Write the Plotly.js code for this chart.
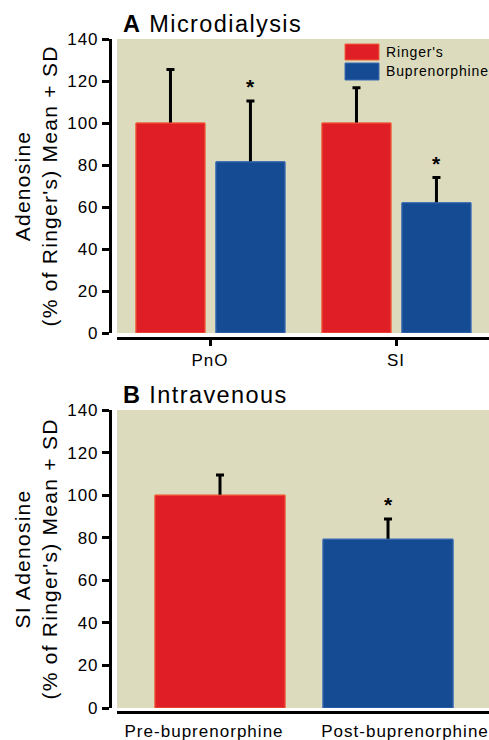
<!DOCTYPE html>
<html>
<head>
<meta charset="utf-8">
<script src="https://cdn.plot.ly/plotly-3.0.1.min.js"></script>
<style>
  html, body { margin: 0; padding: 0; background: #fff; }
  #chart { width: 489px; height: 740px; }
  svg text { letter-spacing: 0.06em; }
</style>
</head>
<body>
<div id="chart"></div>
<script>
// ---- Data ----
const categoriesA = ['PnO', 'SI'];
const seriesNames = ["Ringer's", 'Buprenorphine'];
const ringerMean = [100, 100];
const ringerSD = [25.5, 16.8];
const bupMean = [81.5, 62];
const bupSD = [29, 12];
const bupSig = ['*', '*'];

const categoriesB = ['Pre-buprenorphine', 'Post-buprenorphine'];
const ivMean = [100, 79.3];
const ivSD = [9.5, 9.5];
const ivSig = ['', '*'];

const yTicks = [0, 20, 40, 60, 80, 100, 120, 140];

// ---- Styles ----
const RED = '#e01e26', RED_EDGE = '#f0603c';
const BLUE = '#144b93', BLUE_EDGE = '#3f6fb4';
const BEIGE = '#dcdbbd';
const FONT = 'Liberation Sans, Arial, sans-serif';
const W = 489, H = 740;
const px = v => v / W;
const py = v => (H - v) / H;

const barW_A = 0.371, offR = -0.398, offB = 0.032;
const barW_B = 0.774;
const labelPosB = [-0.095, 1.101];

const errStyle = { color: '#000', thickness: 3, width: 4 };

function errBars(sd) {
  // symmetric bars; the lower half is hidden under a second copy of the bar
  return Object.assign({ type: 'data', symmetric: true, array: sd }, errStyle);
}

function barPair(base, sd) {
  const withErr = Object.assign({}, base, { error_y: errBars(sd) });
  const cover = Object.assign({}, base);
  return [withErr, cover];
}

const traces = [].concat(
  barPair({
    type: 'bar', name: seriesNames[0], x: categoriesA, y: ringerMean,
    xaxis: 'x', yaxis: 'y', width: barW_A, offset: offR,
    marker: { color: RED, line: { color: RED_EDGE, width: 1 } },
    showlegend: false, hoverinfo: 'skip'
  }, ringerSD),
  barPair({
    type: 'bar', name: seriesNames[1], x: categoriesA, y: bupMean,
    xaxis: 'x', yaxis: 'y', width: barW_A, offset: offB,
    marker: { color: BLUE, line: { color: BLUE_EDGE, width: 1 } },
    showlegend: false, hoverinfo: 'skip'
  }, bupSD),
  barPair({
    type: 'bar', name: 'Intravenous', x: categoriesB, y: ivMean,
    xaxis: 'x2', yaxis: 'y2', width: barW_B,
    marker: { color: [RED, BLUE], line: { color: [RED_EDGE, BLUE_EDGE], width: 1 } },
    showlegend: false, hoverinfo: 'skip'
  }, ivSD)
);

const annotations = [];
const starFont = { family: FONT, size: 21, color: '#000', weight: 'bold' };
bupSig.forEach((s, i) => {
  if (!s) return;
  annotations.push({
    xref: 'x', yref: 'y', x: i + offB + barW_A / 2, y: bupMean[i] + bupSD[i],
    text: s, showarrow: false, yanchor: 'bottom', xanchor: 'center', yshift: 1,
    font: starFont
  });
});
ivSig.forEach((s, i) => {
  if (!s) return;
  annotations.push({
    xref: 'x2', yref: 'y2', x: i, y: ivMean[i] + ivSD[i],
    text: s, showarrow: false, yanchor: 'bottom', xanchor: 'center', yshift: 1,
    font: starFont
  });
});
// panel titles
annotations.push({
  xref: 'paper', yref: 'paper', x: px(121), y: py(24), xanchor: 'left', yanchor: 'middle',
  text: '<b>A</b> Microdialysis', showarrow: false, font: { family: FONT, size: 23.5, color: '#000' }
});
annotations.push({
  xref: 'paper', yref: 'paper', x: px(121), y: py(395), xanchor: 'left', yanchor: 'middle',
  text: '<b>B</b> Intravenous', showarrow: false, font: { family: FONT, size: 23.5, color: '#000' }
});
// legend labels
annotations.push({
  xref: 'paper', yref: 'paper', x: px(384), y: py(52), xanchor: 'left', yanchor: 'middle',
  text: seriesNames[0], showarrow: false, font: { family: FONT, size: 14, color: '#000' }
});
annotations.push({
  xref: 'paper', yref: 'paper', x: px(384), y: py(71.5), xanchor: 'left', yanchor: 'middle',
  text: seriesNames[1], showarrow: false, font: { family: FONT, size: 14, color: '#000' }
});

const shapes = [
  { type: 'rect', xref: 'paper', yref: 'paper', x0: px(345), x1: px(379), y0: py(60), y1: py(44),
    fillcolor: RED, line: { color: RED_EDGE, width: 1 } },
  { type: 'rect', xref: 'paper', yref: 'paper', x0: px(345), x1: px(379), y0: py(80), y1: py(63),
    fillcolor: BLUE, line: { color: BLUE_EDGE, width: 1 } }
];

const yAxisBase = {
  range: [0, 140], tickvals: yTicks, showgrid: false, zeroline: false,
  showline: true, linecolor: '#000', linewidth: 3,
  ticks: 'outside', ticklen: 7, tickwidth: 3, tickcolor: '#000',
  tickfont: { family: FONT, size: 17, color: '#000' },
  anchor: 'free', position: px(110), fixedrange: true
};

const layout = {
  width: W, height: H,
  margin: { l: 0, r: 0, t: 0, b: 0, pad: 0 },
  paper_bgcolor: '#ffffff', plot_bgcolor: BEIGE,
  barmode: 'overlay',
  showlegend: false,
  xaxis: {
    domain: [px(117), 1], type: 'category', range: [-0.5, 1.5],
    anchor: 'free', position: (H - 338) / H,
    showline: true, linecolor: '#000', linewidth: 3,
    ticks: 'outside', ticklen: 6, tickwidth: 3, tickcolor: '#000',
    tickfont: { family: FONT, size: 17, color: '#000' },
    showgrid: false, zeroline: false, fixedrange: true
  },
  yaxis: Object.assign({}, yAxisBase, {
    domain: [(H - 333) / H, (H - 39) / H],
    title: { text: "Adenosine<br>(% of Ringer's) Mean + SD", standoff: 2,
             font: { family: FONT, size: 21, color: '#000' } }
  }),
  xaxis2: {
    domain: [px(117), 1], type: 'category', range: [-0.613, 1.601],
    anchor: 'free', position: (H - 712) / H,
    showline: true, linecolor: '#000', linewidth: 3,
    tickmode: 'array', tickvals: labelPosB, ticktext: categoriesB,
    ticks: 'outside', ticklen: 3, tickwidth: 1, tickcolor: 'rgba(0,0,0,0)',
    tickfont: { family: FONT, size: 17, color: '#000' },
    showgrid: false, zeroline: false, fixedrange: true
  },
  yaxis2: Object.assign({}, yAxisBase, {
    domain: [(H - 708) / H, (H - 410) / H],
    title: { text: "SI Adenosine<br>(% of Ringer's) Mean + SD", standoff: 2,
             font: { family: FONT, size: 21, color: '#000' } }
  }),
  annotations: annotations,
  shapes: shapes
};

Plotly.newPlot('chart', traces, layout, { displayModeBar: false, staticPlot: true });
</script>
</body>
</html>
